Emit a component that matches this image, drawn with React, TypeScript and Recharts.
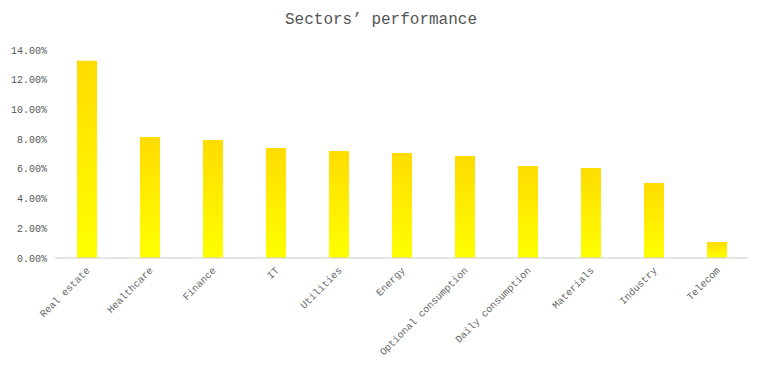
import { BarChart, Bar, XAxis, YAxis } from 'recharts';

const sectors = [
  'Real estate',
  'Healthcare',
  'Finance',
  'IT',
  'Utilities',
  'Energy',
  'Optional consumption',
  'Daily consumption',
  'Materials',
  'Industry',
  'Telecom',
];

const performance = [0.1327, 0.0814, 0.0794, 0.074, 0.072, 0.0707, 0.0686, 0.062, 0.0606, 0.0505, 0.0108];

const yTicks = [0, 0.02, 0.04, 0.06, 0.08, 0.1, 0.12, 0.14];

const data = sectors.map((name, i) => ({ name, value: performance[i] }));

const FONT = '"Liberation Mono", "DejaVu Sans Mono", monospace';

const SectorTick = (props: any) => {
  const { x, y, payload } = props;
  const tx = x + 4;
  const ty = y + 5;
  return (
    <text
      x={tx}
      y={ty}
      textAnchor="end"
      transform={`rotate(-45, ${tx}, ${ty})`}
      fontSize={10}
      fontFamily={FONT}
      fill="#666"
    >
      {payload.value}
    </text>
  );
};

export default function App() {
  return (
    <div style={{ position: 'absolute', left: 0, top: 0, width: 762, height: 375, background: '#fff' }}>
      <div
        style={{
          position: 'absolute',
          top: 11,
          width: 762,
          textAlign: 'center',
          fontFamily: FONT,
          fontSize: 16,
          color: '#555',
        }}
      >
        Sectors’ performance
      </div>
      <BarChart width={762} height={375} data={data} margin={{ top: 50, right: 14, bottom: 0, left: 0 }}>
        <defs>
          <linearGradient id="barFill" x1="0" y1="0" x2="0" y2="1">
            <stop offset="0%" stopColor="#ffdc00" />
            <stop offset="100%" stopColor="#ffff00" />
          </linearGradient>
        </defs>
        <XAxis
          dataKey="name"
          interval={0}
          height={117}
          tickLine={false}
          axisLine={{ stroke: '#ccc' }}
          tick={<SectorTick />}
        />
        <YAxis
          width={55}
          domain={[0, 0.14]}
          ticks={yTicks}
          axisLine={false}
          tickLine={false}
          tickFormatter={(v: number) => `${(v * 100).toFixed(2)}%`}
          tick={{ fontSize: 10, fontFamily: FONT, fill: '#555' }}
        />
        <Bar dataKey="value" fill="url(#barFill)" barSize={20} isAnimationActive={false} />
      </BarChart>
    </div>
  );
}
